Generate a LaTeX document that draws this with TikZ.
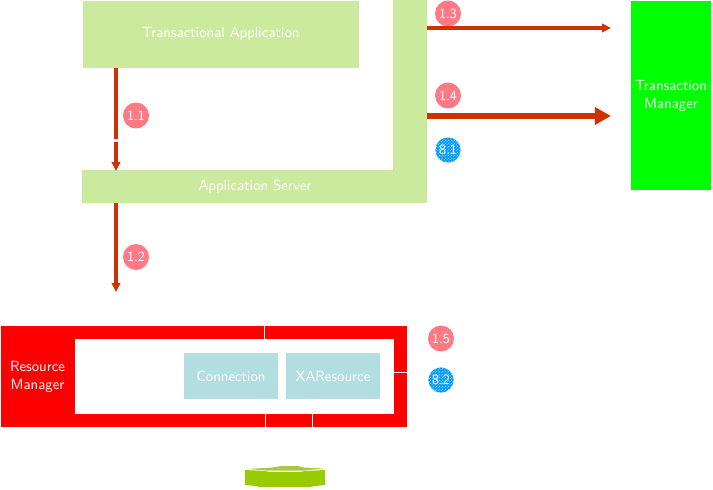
\documentclass[tikz,border=0pt]{standalone}
\usepackage{tikz}
\usetikzlibrary{arrows.meta,patterns}
\definecolor{appgreen}{RGB}{203,234,158}
\definecolor{tmgreen}{RGB}{0,255,0}
\definecolor{rmred}{RGB}{255,0,0}
\definecolor{xablue}{RGB}{178,222,226}
\definecolor{arrowred}{RGB}{204,51,0}
\definecolor{stepred}{RGB}{255,122,133}
\definecolor{stepblue}{RGB}{0,153,255}
\definecolor{diskgreen}{RGB}{153,204,0}
\definecolor{disktop}{RGB}{170,200,60}
\pgfdeclarepatternformonly{finedots}{\pgfqpoint{-0.5pt}{-0.5pt}}{\pgfqpoint{1.6pt}{1.6pt}}{\pgfqpoint{2.1pt}{2.1pt}}{
  \pgfpathcircle{\pgfqpoint{0pt}{0pt}}{0.33pt}
  \pgfpathcircle{\pgfqpoint{1.05pt}{1.05pt}}{0.33pt}
  \pgfusepath{fill}
}
\begin{document}
\begin{tikzpicture}[x=0.025cm,y=-0.025cm,font=\sffamily\fontsize{10.5}{13}\selectfont]

\useasboundingbox (0,0) rectangle (713,489);

%vertex
\tikzstyle{appbox}=[fill=appgreen,inner sep=0pt,outer sep=0pt]
\tikzstyle{tmbox}=[fill=tmgreen,inner sep=0pt,outer sep=0pt]
\tikzstyle{rmbox}=[fill=rmred,inner sep=0pt,outer sep=0pt]
\tikzstyle{xabox}=[fill=xablue,text=white,inner sep=0pt,outer sep=0pt]
\tikzstyle{boxlabel}=[text=white,align=center,inner sep=0pt]
%steps
\tikzstyle{stepone}=[circle,fill=stepred,text=white,minimum size=0.65cm,inner sep=0pt,font=\sffamily\fontsize{10}{12}\selectfont]
\tikzstyle{steptwo}=[circle,fill=stepblue,text=white,minimum size=0.63cm,inner sep=0pt,font=\sffamily\fontsize{10}{12}\selectfont,preaction={fill=stepblue},pattern=finedots,pattern color=white]
%arrows
\tikzstyle{smallarrow}=[-{Triangle[length=6.4pt,width=6pt]},color=arrowred,line width=2.8pt]
\tikzstyle{bigarrow}=[-{Triangle[length=11.5pt,width=12pt]},color=arrowred,line width=4.2pt]
\tikzstyle{plainline}=[color=arrowred,line width=2.8pt]
\tikzstyle{tickline}=[color=white,line width=0.7pt]

%application
\node[appbox,minimum width=6.9cm,minimum height=1.675cm] (app) at (221,34.5) {};
\node[boxlabel] (applabel) at (221,34) {Transactional Application};
\node[appbox,minimum width=8.625cm,minimum height=0.825cm] (server) at (254.5,186.5) {};
\node[boxlabel] (serverlabel) at (255,187) {Application Server};
\node[appbox,minimum width=0.85cm,minimum height=4.25cm] (serverside) at (410,85) {};

%transaction manager
\node[tmbox,minimum width=2cm,minimum height=4.725cm] (tm) at (671,95.5) {};
\node[boxlabel] (tmlabel) at (671,96) {Transaction\\Manager};

%resource manager
\node[rmbox,minimum width=10.15cm,minimum height=2.525cm] (rm) at (204,376.5) {};
\node[fill=white,inner sep=0pt,minimum width=7.975cm,minimum height=1.875cm] (rminner) at (234.5,376.5) {};
\node[boxlabel] (rmlabel) at (37.5,377) {Resource\\Manager};
\node[xabox,minimum width=2.35cm,minimum height=1.15cm] (conn) at (231,376) {Connection};
\node[xabox,minimum width=2.35cm,minimum height=1.15cm] (xares) at (333,376) {XAResource};
\draw[tickline] (264.5,326) -- (264.5,339);
\draw[tickline] (394,372.5) -- (407,372.5);
\draw[tickline] (265.5,414) -- (265.5,427);
\draw[tickline] (312,414) -- (312,427);

%disk
\fill[diskgreen] (245,470) -- (265,471) -- (270,472) -- (300,472) -- (305,471) -- (325,470) -- (325,485) -- (315,486) -- (310,487) -- (260,487) -- (256,486) -- (245,485) -- cycle;
\fill[disktop] (247,469) -- (272,467.5) -- (282,466) -- (298,466) -- (304,467.5) -- (323,468.5) -- (304,470.5) -- (266,470.5) -- cycle;

%steps
\node[stepone] (step11) at (136,115.5) {1.1};
\node[stepone] (step12) at (136,257) {1.2};
\node[stepone] (step13) at (448,13.5) {1.3};
\node[stepone] (step14) at (448,95.5) {1.4};
\node[steptwo] (step81) at (448,150) {8.1};
\node[stepone] (step15) at (441,338.5) {1.5};
\node[steptwo] (step82) at (441,380) {8.2};

%ARROWS
\coordinate (a11top) at (116,68);
\coordinate (a11gap1) at (116,139);
\coordinate (a11gap2) at (116,142);
\coordinate (a11end) at (116,171);
\coordinate (a12top) at (116,203);
\coordinate (a12end) at (116,292);
\coordinate (a13top) at (427,28);
\coordinate (a13end) at (611,28);
\coordinate (a14top) at (427,116);
\coordinate (a14end) at (611,116);

\draw[plainline] (a11top) -- (a11gap1);
\draw[smallarrow] (a11gap2) -- (a11end);
\draw[smallarrow] (a12top) -- (a12end);
\draw[smallarrow] (a13top) -- (a13end);
\draw[bigarrow] (a14top) -- (a14end);
\end{tikzpicture}
\end{document}
